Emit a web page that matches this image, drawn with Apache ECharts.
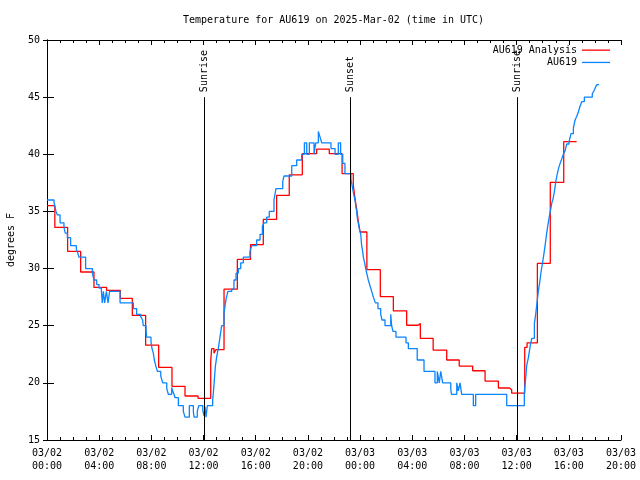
<!DOCTYPE html>
<html>
<head>
<meta charset="utf-8">
<script src="https://cdn.jsdelivr.net/npm/echarts@6.0.0/dist/echarts.min.js"></script>
<style>
html,body{margin:0;padding:0;background:#fff;}
#chart{width:640px;height:480px;}
</style>
</head>
<body>
<div id="chart"></div>
<script>
// Hours since 2025-03-02 00:00 UTC, temperature in degrees F
const analysisData = [
  [0, 35.5], [0.6, 33.6], [1.58, 31.5], [2.58, 29.7], [3.6, 28.35], [4.57, 28.1],
  [5.62, 27.4], [6.54, 25.9], [7.56, 23.3], [8.56, 21.35], [9.58, 19.7], [10.58, 18.85],
  [11.58, 18.65], [12.55, 21.9], [12.62, 23.0], [12.8, 22.6], [12.95, 22.9], [13.57, 28.2],
  [14.59, 30.8], [15.6, 32.1], [16.58, 34.3], [17.6, 36.4], [18.57, 38.2], [19.57, 40.05],
  [20.67, 40.45], [21.64, 40.05], [22.62, 38.3], [23.48, 37.3], [23.6, 36.2], [23.75, 35.1],
  [23.88, 34.0], [24.0, 33.2], [24.52, 29.9], [25.55, 27.55], [26.55, 26.3], [27.57, 25.04],
  [28.45, 25.2], [28.62, 23.9], [29.6, 22.87], [30.64, 22.0], [31.6, 21.47], [32.63, 21.06],
  [33.58, 20.16], [34.6, 19.55], [35.45, 19.4], [35.62, 19.1], [36.62, 23.1], [36.8, 23.5],
  [37.59, 30.46], [38.58, 37.55], [39.61, 41.1], [40.6, 41.1]
];

const stationData = [
  [0, 36.0], [0.54, 35.8], [0.61, 35.4], [0.69, 35.0], [0.79, 34.7], [1.0, 34.0],
  [1.30, 33.6], [1.40, 33.1], [1.56, 32.7], [1.81, 32.0], [2.25, 31.7], [2.38, 31.3],
  [2.45, 31.0], [2.96, 30.0], [3.48, 29.6], [3.60, 29.0], [3.81, 28.6], [3.99, 28.3],
  [4.17, 28.0], [4.24, 27.0], [4.32, 28.0], [4.42, 27.0], [4.55, 28.0], [4.68, 27.0],
  [4.80, 28.0], [5.60, 27.0], [6.62, 26.5], [6.87, 26.0], [7.18, 25.8], [7.33, 25.5],
  [7.38, 25.0], [7.59, 24.6], [7.64, 24.0], [7.97, 23.6], [8.05, 23.0], [8.15, 22.6],
  [8.23, 22.0], [8.36, 21.4], [8.46, 21.0], [8.72, 20.6], [8.87, 20.0], [9.18, 19.5],
  [9.30, 19.0], [9.56, 19.6], [9.63, 19.3], [9.74, 19.0], [9.81, 18.7], [10.07, 18.0],
  [10.45, 17.5], [10.58, 17.0], [10.91, 18.0], [11.22, 17.5], [11.27, 17.0], [11.52, 17.5],
  [11.63, 18.0], [11.94, 17.6], [12.04, 17.1], [12.11, 17.9], [12.19, 17.0], [12.29, 18.0],
  [12.70, 18.5], [12.80, 19.8], [12.90, 21.4], [13.01, 22.3], [13.13, 23.0], [13.26, 24.0],
  [13.39, 25.0], [13.57, 26.1], [13.72, 27.3], [13.87, 28.0], [14.16, 28.2], [14.33, 29.0],
  [14.49, 29.6], [14.67, 30.0], [14.85, 30.5], [15.05, 31.0], [15.56, 31.5], [15.69, 32.0],
  [16.07, 32.5], [16.33, 33.0], [16.51, 33.7], [16.64, 34.0], [16.84, 34.5], [17.04, 35.0],
  [17.40, 36.0], [17.55, 37.0], [18.07, 37.6], [18.17, 38.1], [18.76, 39.0], [19.14, 39.5],
  [19.52, 40.0], [19.73, 41.0], [19.91, 40.0], [20.11, 41.0], [20.47, 40.0], [20.60, 41.0],
  [20.80, 42.0], [20.93, 41.5], [21.06, 41.0], [21.77, 40.5], [22.08, 40.0], [22.33, 41.0],
  [22.51, 40.0], [22.67, 39.2], [22.84, 38.3], [23.30, 37.8], [23.43, 37.0], [23.53, 36.4],
  [23.61, 36.0], [23.69, 35.3], [23.74, 35.0], [23.79, 34.4], [23.86, 34.0], [23.94, 33.5],
  [24.05, 33.0], [24.12, 32.0], [24.20, 31.5], [24.25, 31.0], [24.35, 30.5], [24.43, 30.0],
  [24.53, 29.5], [24.63, 29.0], [24.76, 28.5], [24.89, 28.0], [25.02, 27.5], [25.17, 27.0],
  [25.37, 26.5], [25.58, 26.0], [25.68, 25.5], [25.91, 25.0], [26.35, 26.0], [26.42, 25.0],
  [26.52, 24.5], [26.75, 24.0], [27.52, 23.5], [27.70, 23.0], [28.38, 22.0], [28.90, 21.0],
  [29.74, 20.0], [29.92, 21.0], [30.07, 20.0], [30.18, 21.0], [30.33, 20.0], [30.95, 19.5],
  [31.00, 19.0], [31.41, 20.0], [31.53, 19.3], [31.66, 20.0], [31.79, 19.0], [32.68, 18.0],
  [32.86, 19.0], [35.24, 18.0], [36.59, 19.2], [36.70, 20.5], [36.77, 21.5], [36.90, 22.2],
  [37.05, 23.3], [37.16, 23.9], [37.36, 25.2], [37.46, 26.0], [37.56, 27.0], [37.66, 28.0],
  [37.77, 28.8], [37.87, 29.7], [37.97, 30.4], [38.08, 31.2], [38.18, 32.0], [38.28, 32.9],
  [38.38, 33.7], [38.48, 34.4], [38.58, 35.0], [38.69, 35.7], [38.79, 36.1], [38.89, 36.7],
  [39.0, 37.6], [39.1, 38.2], [39.2, 38.7], [39.33, 39.2], [39.46, 39.6], [39.58, 40.0],
  [39.71, 40.3], [39.84, 40.9], [40.02, 41.1], [40.17, 41.8], [40.35, 42.3], [40.48, 43.0],
  [40.6, 43.3], [40.73, 43.7], [40.86, 44.2], [40.99, 44.6], [41.19, 45.0], [41.80, 45.3],
  [41.95, 45.6], [42.06, 45.9], [42.16, 46.1], [42.32, 46.1]
];

const sunTimes = [12.0, 23.23, 36.03];
const sunLabels = ['Sunrise', 'Sunset', 'Sunrise'];
const sunLineBottom = 15;
const sunLineTop = 45;

const xTickLabels = ['03/02\n00:00', '03/02\n04:00', '03/02\n08:00', '03/02\n12:00', '03/02\n16:00', '03/02\n20:00',
                     '03/03\n00:00', '03/03\n04:00', '03/03\n08:00', '03/03\n12:00', '03/03\n16:00', '03/03\n20:00'];
const xMin = 0, xMax = 44, xStep = 4;
const yMin = 15, yMax = 50, yStep = 5;

const FONT = '"DejaVu Sans Mono", "Liberation Mono", monospace';

const chart = echarts.init(document.getElementById('chart'), null, {renderer: 'canvas'});

const axisLine = {show: true, lineStyle: {color: '#000', width: 1}};

chart.setOption({
  animation: false,
  backgroundColor: '#fff',
  title: {
    text: 'Temperature for AU619 on 2025-Mar-02 (time in UTC)',
    left: 183, top: 15, padding: 0,
    textStyle: {fontFamily: FONT, fontSize: 10, fontWeight: 'normal', color: '#000'}
  },
  legend: {
    orient: 'vertical', align: 'right', right: 30, top: 44, padding: 0,
    icon: 'rect', itemWidth: 28, itemHeight: 1.3, itemGap: 0,
    textStyle: {fontFamily: FONT, fontSize: 10, color: '#000', lineHeight: 12.3},
    data: ['AU619 Analysis', 'AU619']
  },
  grid: {left: 47, right: 19, top: 40, bottom: 40, containLabel: false, outerBoundsMode: 'none'},
  xAxis: [{
    type: 'value', min: xMin, max: xMax, interval: xStep, position: 'bottom',
    axisLine: axisLine,
    axisTick: {show: true, inside: true, length: 5, lineStyle: {color: '#000'}},
    minorTick: {show: true, splitNumber: 4, length: 3, lineStyle: {color: '#000'}},
    splitLine: {show: false},
    axisLabel: {
      margin: 7, fontFamily: FONT, fontSize: 10, color: '#000', lineHeight: 13,
      formatter: v => xTickLabels[Math.round((v - xMin) / xStep)] || ''
    }
  }, {
    type: 'value', min: xMin, max: xMax, interval: xStep, position: 'top',
    axisLine: axisLine,
    axisTick: {show: true, inside: true, length: 5, lineStyle: {color: '#000'}},
    minorTick: {show: true, splitNumber: 4, length: 3, lineStyle: {color: '#000'}},
    splitLine: {show: false},
    axisLabel: {show: false}
  }],
  yAxis: [{
    type: 'value', min: yMin, max: yMax, interval: yStep, position: 'left',
    name: 'degrees F', nameLocation: 'middle', nameRotate: 90, nameGap: 31,
    nameTextStyle: {fontFamily: FONT, fontSize: 10, color: '#000'},
    axisLine: axisLine,
    axisTick: {show: true, inside: true, length: 7, lineStyle: {color: '#000'}},
    splitLine: {show: false},
    axisLabel: {margin: 7, fontFamily: FONT, fontSize: 10, color: '#000'}
  }, {
    type: 'value', min: yMin, max: yMax, interval: yStep, position: 'right',
    axisLine: axisLine,
    axisTick: {show: true, inside: true, length: 4, lineStyle: {color: '#000'}},
    splitLine: {show: false},
    axisLabel: {show: false}
  }],
  series: [{
    name: 'AU619 Analysis', type: 'line', step: 'end',
    xAxisIndex: 0, yAxisIndex: 0,
    data: analysisData, showSymbol: false, symbol: 'none',
    lineStyle: {color: '#ff0000', width: 1.3}, itemStyle: {color: '#ff0000'},
    z: 3
  }, {
    name: 'AU619', type: 'line', step: 'end',
    xAxisIndex: 0, yAxisIndex: 0,
    data: stationData, showSymbol: false, symbol: 'none',
    lineStyle: {color: '#0a84ff', width: 1.3}, itemStyle: {color: '#0a84ff'},
    z: 4
  }, {
    name: 'sun', type: 'custom', xAxisIndex: 0, yAxisIndex: 0, z: 5,
    data: sunTimes.map(t => [t, sunLineTop]),
    renderItem: function (params, api) {
      const t = api.value(0);
      const p0 = api.coord([t, sunLineBottom]);
      const p1 = api.coord([t, api.value(1)]);
      const x = Math.round(p0[0]) + 0.5;
      return {
        type: 'group',
        children: [{
          type: 'line',
          shape: {x1: x, y1: p0[1], x2: x, y2: p1[1]},
          style: {stroke: '#000', lineWidth: 1}
        }, {
          type: 'text',
          x: x, y: p1[1] - 5, rotation: Math.PI / 2,
          style: {
            text: sunLabels[params.dataIndex],
            fontFamily: FONT, fontSize: 10, fill: '#000',
            align: 'left', verticalAlign: 'middle'
          }
        }]
      };
    }
  }]
});
</script>
</body>
</html>
